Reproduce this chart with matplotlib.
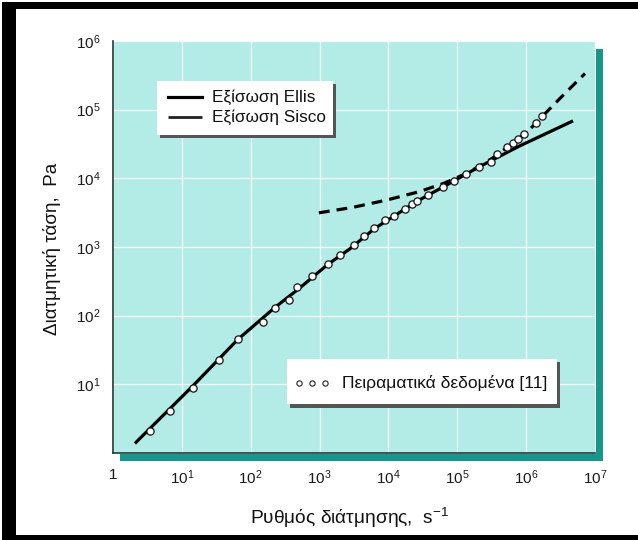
import matplotlib
matplotlib.use("Agg")
import matplotlib.pyplot as plt
from matplotlib.patches import Rectangle
from matplotlib.lines import Line2D

plt.rcParams['font.family'] = ['Liberation Sans', 'DejaVu Sans']
plt.rcParams['mathtext.fontset'] = 'custom'
plt.rcParams['mathtext.rm'] = 'Liberation Sans'
plt.rcParams['mathtext.it'] = 'Liberation Sans'

# ---- data ----
exp_rate = [3.44, 6.7, 14.6, 34.7, 65.5, 151, 223, 356, 475, 774, 1306, 1995,
            3184, 4488, 6206, 9057, 12100, 17200, 21800, 26300, 38000, 61200,
            88400, 133600, 208000, 308000, 376000, 519000, 634000, 757000,
            935000, 1.38e6, 1.69e6]
exp_stress = [2.09, 4.09, 8.9, 22.4, 45.2, 80, 130, 169, 258, 381, 558, 769,
              1066, 1427, 1867, 2440, 2846, 3530, 4170, 4660, 5640, 7380,
              9020, 11400, 14700, 17060, 22750, 28200, 32200, 37600,
              44000, 63600, 80400]

ellis_rate = [2.08, 14.4, 64.8, 222.8, 513, 1306, 2722, 6270, 26300, 60600,
              208000, 792000, 4.8e6]
ellis_stress = [1.38, 9.45, 44.9, 131, 252, 554, 932, 1853, 4660, 7380,
                14700, 29400, 68700]

sisco_rate = [977, 3008, 9350, 28100, 64800, 149000, 344000, 670000, 1.10e6,
              1.82e6, 3.56e6, 7.16e6]
sisco_stress = [3147, 3770, 4815, 6400, 8510, 12300, 20400, 33600, 50300,
                84600, 168000, 336000]

xticks = [1, 1e1, 1e2, 1e3, 1e4, 1e5, 1e6, 1e7]
xticklabels = ['1', '$10^{1}$', '$10^{2}$', '$10^{3}$', '$10^{4}$', '$10^{5}$',
               '$10^{6}$', '$10^{7}$']
yticks = [1, 1e1, 1e2, 1e3, 1e4, 1e5, 1e6]
yticklabels = ['', '$10^{1}$', '$10^{2}$', '$10^{3}$', '$10^{4}$', '$10^{5}$',
               '$10^{6}$']

legend_lines = ['Εξίσωση Ellis', 'Εξίσωση Sisco']
legend_points = 'Πειραματικά δεδομένα [11]'
xlabel = 'Ρυθμός διάτμησης,  s$^{-1}$'
ylabel = 'Διατμητική τάση,  Pa'

# ---- figure ----
W, H = 638, 540
fig = plt.figure(figsize=(W / 100, H / 100), dpi=100)
fig.patch.set_facecolor('white')


def fx(px):
    return px / W


def fy(py):
    return 1 - py / H


def frect(x0, y0, x1, y1, **kw):
    r = Rectangle((fx(x0), fy(y1)), fx(x1) - fx(x0), fy(y0) - fy(y1),
                  transform=fig.transFigure, **kw)
    fig.add_artist(r)
    return r


L, T, R, B = 113, 41, 595, 453
ax = fig.add_axes([fx(L), fy(B), fx(R) - fx(L), fy(T) - fy(B)])
ax.set_facecolor('#b3ece6')
ax.set_xscale('log')
ax.set_yscale('log')
ax.set_xlim(1, 1e7)
ax.set_ylim(1, 1e6)
ax.minorticks_off()
ax.set_xticks(xticks)
ax.set_xticklabels(xticklabels)
ax.set_yticks(yticks)
ax.set_yticklabels(yticklabels)
ax.tick_params(length=0, labelsize=11, colors='#1a1a1a')
ax.tick_params(axis='x', pad=11)
ax.tick_params(axis='y', pad=9)
ax.grid(True, color='white', lw=0.9, alpha=0.85)
ax.set_axisbelow(True)
for s in ['top', 'right']:
    ax.spines[s].set_visible(False)
for s in ['left', 'bottom']:
    ax.spines[s].set_color('#1d3b3a')
    ax.spines[s].set_linewidth(1.2)

ax.plot(ellis_rate, ellis_stress, color='black', lw=2.3, solid_capstyle='butt',
        zorder=3)
ax.plot(sisco_rate, sisco_stress, color='black', lw=2.3, ls=(0, (3.4, 2.2)),
        zorder=3)
ax.plot(exp_rate, exp_stress, ls='none', marker='o', ms=5.2, mfc='white',
        mec='#111111', mew=0.9, zorder=4)

# shadows of the plot area
frect(596, 49, 603, 461, color='#17978a', lw=0)
frect(120, 454, 603, 461, color='#17978a', lw=0)

# legend box 1
frect(160, 84, 336, 138, color='#555555', lw=0, zorder=5)
frect(157, 81, 333, 135, color='white', lw=0, zorder=6)
fig.add_artist(Line2D([fx(168), fx(202)], [fy(97), fy(97)], color='black',
                      lw=2.3, transform=fig.transFigure, zorder=7))
fig.add_artist(Line2D([fx(168), fx(202)], [fy(117), fy(117)], color='#222222',
                      lw=2.0, ls=(0, (20, 0.3)), transform=fig.transFigure,
                      zorder=7))
fig.text(fx(212), fy(97), legend_lines[0], fontsize=12.3, va='center',
         ha='left', color='#111111', zorder=8)
fig.text(fx(212), fy(117), legend_lines[1], fontsize=12.3, va='center',
         ha='left', color='#111111', zorder=8)

# legend box 2
frect(290, 362, 560, 408, color='#555555', lw=0, zorder=5)
frect(287, 359, 557, 404, color='white', lw=0, zorder=6)
for px in [299, 312, 325]:
    fig.add_artist(Line2D([fx(px)], [fy(383)], ls='none', marker='o', ms=3.8,
                          mfc='white', mec='#222222', mew=0.8,
                          transform=fig.transFigure, zorder=7))
fig.text(fx(342), fy(383), legend_points, fontsize=12.6, va='center',
         ha='left', color='#111111', zorder=8)

# axis labels
fig.text(fx(350), fy(518), xlabel, fontsize=13.8, ha='center', va='center',
         color='#111111')
fig.text(fx(52), fy(249), ylabel, fontsize=13.6, ha='center', va='center',
         rotation=90, color='#111111')

# black frame of the scan
frect(2, 2, W, 9, color='black', lw=0, zorder=10)
frect(2, 2, 16, H, color='black', lw=0, zorder=10)
frect(2, 535, W, H, color='black', lw=0, zorder=10)

fig.savefig('out.png', dpi=100)
